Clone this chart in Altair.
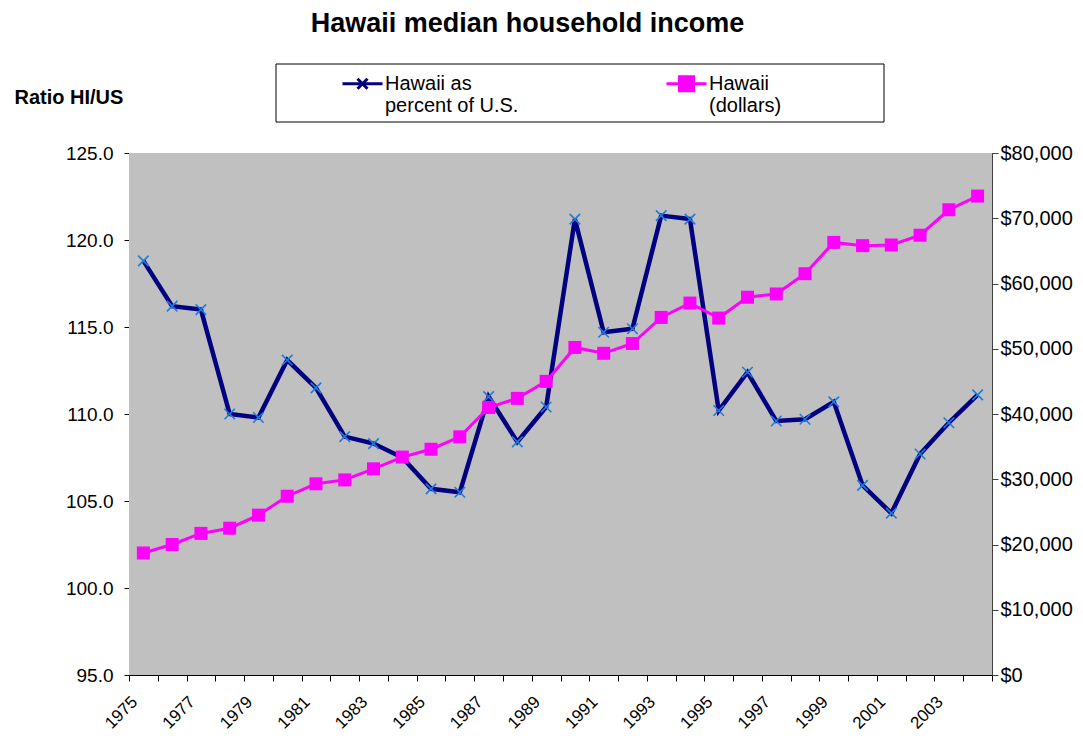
import altair as alt
import pandas as pd

# ---------------- data ----------------
years = [str(y) for y in range(1975, 2005)]
ratio = [118.8, 116.2, 116.0, 110.0, 109.8, 113.1, 111.5, 108.7, 108.3, 107.5,
         105.7, 105.5, 111.0, 108.4, 110.4, 121.2, 114.7, 114.9, 121.4, 121.2,
         110.2, 112.4, 109.6, 109.7, 110.7, 105.9, 104.3, 107.7, 109.5, 111.1]
dollars = [18700, 20000, 21700, 22500, 24500, 27400, 29300, 29900, 31600, 33400,
           34600, 36500, 41000, 42400, 45000, 50200, 49300, 50800, 54800, 57000,
           54700, 57900, 58400, 61500, 66300, 65800, 65900, 67400, 71300, 73400]
series_names = ["Hawaii as percent of U.S.", "Hawaii (dollars)"]
left_ticks = [95, 100, 105, 110, 115, 120, 125]
right_ticks = [0, 10000, 20000, 30000, 40000, 50000, 60000, 70000, 80000]

df = pd.DataFrame({"year": years, "ratio": ratio, "dollars": dollars})

FONT = "Arial, Liberation Sans, sans-serif"
NAVY = "#000080"
MAGENTA = "#FF00FF"
XBLUE = "#1F7BDB"
PLOT_BG = "#C0C0C0"

x_enc = alt.X(
    "year:O",
    scale=alt.Scale(type="band", paddingInner=0, paddingOuter=0),
    axis=alt.Axis(
        title=None, tickBand="extent", labelAngle=-45, labelAlign="right",
        labelBaseline="middle", labelOverlap=False,
        labelExpr="toNumber(datum.value) % 2 == 1 ? datum.label : ''",
        labelFont=FONT, labelFontSize=17, labelColor="black",
        labelPadding=18, labelOffset=-9, tickSize=6, tickColor="black",
        domainColor="black", grid=False,
    ),
)

y_left = alt.Y(
    "ratio:Q",
    scale=alt.Scale(domain=[95, 125], nice=False, zero=False),
    axis=alt.Axis(
        values=left_ticks, format=".1f", title="Ratio HI/US", titleAngle=0,
        titleX=-115, titleY=-56, titleAlign="left", titleBaseline="middle",
        titleFont=FONT, titleFontSize=20, titleFontWeight="bold", titleColor="black",
        labelFont=FONT, labelFontSize=19, labelColor="black", labelPadding=11,
        tickSize=5, tickColor="black", domainColor="black",
        grid=True, gridWidth=1,
        gridColor=alt.condition("datum.value == 125", alt.value("#808080"), alt.value("black")),
    ),
)

y_right = alt.Y(
    "dollars:Q",
    scale=alt.Scale(domain=[0, 80000], nice=False),
    axis=alt.Axis(
        orient="right", values=right_ticks, format="$,.0f", title=None, grid=False,
        labelFont=FONT, labelFontSize=20, labelColor="black", labelPadding=2,
        tickSize=6, tickColor="#404040", domainColor="#404040",
    ),
)

# plot-area background
bg = alt.Chart(alt.Data(values=[{"a": 1}])).mark_rect(
    fill=PLOT_BG, strokeWidth=0
).encode(x=alt.value(0), x2=alt.value("width"), y=alt.value(0), y2=alt.value("height"))

base = alt.Chart(df)
blue_line = base.mark_line(color=NAVY, strokeWidth=4.5).encode(x=x_enc, y=y_left)
blue_pts = base.mark_point(
    shape="M-1,-1L1,1M-1,1L1,-1", size=110, color=XBLUE, strokeWidth=1.6,
    filled=False, opacity=1,
).encode(x=x_enc, y=y_left)
left = alt.layer(blue_line, blue_pts)

pink_line = base.mark_line(color=MAGENTA, strokeWidth=3).encode(x=x_enc, y=y_right)
pink_pts = base.mark_square(size=169, color=MAGENTA, opacity=1).encode(x=x_enc, y=y_right)
right = alt.layer(pink_line, pink_pts)

# legend frame
box = alt.Chart(alt.Data(values=[{"a": 1}])).mark_rect(
    fill="white", stroke="black", strokeWidth=1
).encode(x=alt.value(147), x2=alt.value(755), y=alt.value(-89), y2=alt.value(-31))

path_a = "M-1,0H1M-0.25,-0.25L0.25,0.25M-0.25,0.25L0.25,-0.25"
path_b = "M-1,0H1M-0.35,-0.35H0.35V0.35H-0.35Z"
leg_df = pd.DataFrame({"series": series_names})
legend_def = alt.Legend(
    title=None, orient="none", legendX=212, legendY=-91,
    direction="horizontal", columns=2, columnPadding=141, padding=0,
    labelFont=FONT, labelFontSize=20, labelColor="black", labelBaseline="middle",
    labelOffset=1, labelLimit=0, symbolSize=1600, symbolOpacity=1,
    symbolStrokeWidth=3,
    labelExpr=("datum.label == 'Hawaii as percent of U.S.' ? "
               "['Hawaii as', 'percent of U.S.'] : ['Hawaii', '(dollars)']"),
)
legend_layer = alt.Chart(leg_df).transform_filter("false").mark_point(
    size=1600, filled=False, opacity=1, strokeWidth=3
).encode(
    color=alt.Color("series:N", scale=alt.Scale(domain=series_names, range=[NAVY, MAGENTA]),
                    legend=legend_def),
    fill=alt.Fill("series:N", scale=alt.Scale(domain=series_names, range=[NAVY, MAGENTA]),
                  legend=legend_def),
    shape=alt.Shape("series:N", scale=alt.Scale(domain=series_names, range=[path_a, path_b]),
                    legend=legend_def),
)

chart = alt.layer(bg, box, left, right, legend_layer).resolve_scale(
    y="independent"
).properties(
    width=863, height=522,
    title=alt.TitleParams(
        "Hawaii median household income", font=FONT, fontSize=27, fontWeight="bold",
        color="black", anchor="middle", frame="group", dx=-33, dy=-20,
    ),
    autosize=alt.AutoSizeParams(type="none"),
    padding={"left": 121, "top": 145, "right": 83, "bottom": 57},
    background="white",
).configure_view(fill=PLOT_BG, stroke="#808080", strokeWidth=1)

chart.save("out.html", embed_options={"renderer": "svg", "actions": False})
